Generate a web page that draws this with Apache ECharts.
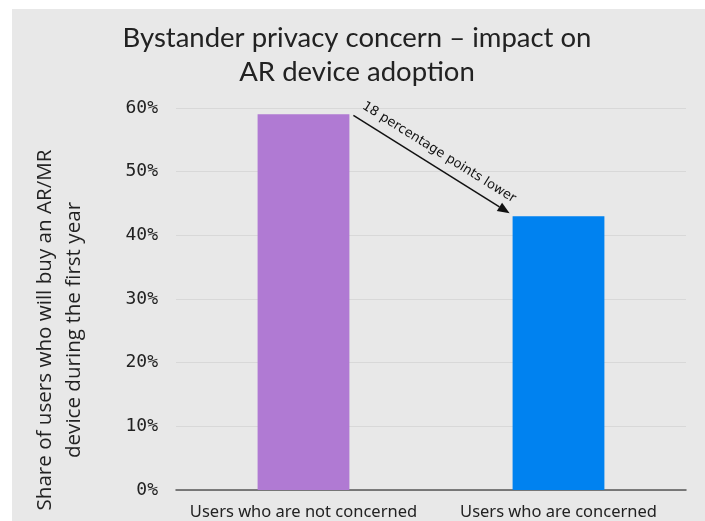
<!DOCTYPE html>
<html><head><meta charset="utf-8">
<script src="https://cdn.jsdelivr.net/npm/echarts@6/dist/echarts.min.js"></script>
<style>html,body{margin:0;padding:0;background:#fff}#c{width:705px;height:521px}</style>
</head><body><div id="c"></div>
<script>
var categories = ['Users who are not concerned', 'Users who are concerned'];
var values = [59, 43];
var barColors = ['#b07ad3', '#0082f0'];
var annotationText = '18 percentage points lower';
var yTicks = [0, 10, 20, 30, 40, 50, 60];

var chart = echarts.init(document.getElementById('c'));
var option = {
  backgroundColor: '#ffffff',
  animation: false,
  title: {
    text: 'Bystander privacy concern \u2013 impact on\nAR device adoption',
    left: 352, top: 16, textAlign: 'center',
    textStyle: { fontFamily: 'Lato', fontWeight: 'normal', fontSize: 27.5, color: '#222', lineHeight: 34 }
  },
  grid: { left: 176, right: 19, top: 108, bottom: 31 },
  xAxis: {
    type: 'category', data: categories,
    axisLine: { lineStyle: { color: '#555', width: 1.5 } },
    axisTick: { show: false },
    axisLabel: { interval: 0, fontFamily: 'Noto Sans', fontSize: 16.5, color: '#222', margin: 14 }
  },
  yAxis: {
    type: 'value', min: yTicks[0], max: yTicks[yTicks.length - 1], interval: 10,
    axisLabel: { formatter: '{value}%', fontFamily: 'DejaVu Sans Mono', fontSize: 18, color: '#222', margin: 18 },
    splitLine: { lineStyle: { color: '#d8d8d8', width: 1 } },
    axisLine: { show: false }, axisTick: { show: false }
  },
  series: [{
    type: 'bar', barWidth: '36%',
    data: values.map(function (v, i) { return { value: v, itemStyle: { color: barColors[i] } }; })
  }]
};
chart.setOption(option);

// annotation derived from data positions
var p1 = chart.convertToPixel({ xAxisIndex: 0, yAxisIndex: 0 }, [0, values[0]]);
var p2 = chart.convertToPixel({ xAxisIndex: 0, yAxisIndex: 0 }, [1, values[1]]);
var catW = chart.convertToPixel({ xAxisIndex: 0 }, 1) - chart.convertToPixel({ xAxisIndex: 0 }, 0);
var halfBar = catW * 0.36 / 2;
var x1 = p1[0] + halfBar + 4, y1 = p1[1] + 1;
var x2 = p2[0] - halfBar - 3, y2 = p2[1] - 3;
var ang = Math.atan2(y2 - y1, x2 - x1);
var ah = 12, aw = 5;
var ux = Math.cos(ang), uy = Math.sin(ang);
var bx = x2 - ux * ah, by = y2 - uy * ah;
var mx = (x1 + x2) / 2, my = (y1 + y2) / 2;
var off = 14;
chart.setOption({
  graphic: [
    { type: 'rect', z: -10, shape: { x: 12, y: 9, width: 705, height: 521 }, style: { fill: '#e8e8e8' }, silent: true },
    { type: 'line', shape: { x1: x1, y1: y1, x2: bx, y2: by }, style: { stroke: '#111', lineWidth: 1.5 } },
    { type: 'polygon', shape: { points: [[x2, y2], [bx - uy * aw, by + ux * aw], [bx + uy * aw, by - ux * aw]] }, style: { fill: '#111' } },
    { type: 'text', x: mx + uy * off, y: my - ux * off, rotation: -ang,
      style: { text: annotationText, fontFamily: 'DejaVu Sans', fontSize: 13, fill: '#111', align: 'center', verticalAlign: 'middle' } },
    { type: 'text', x: 60, y: 330, rotation: Math.PI / 2,
      style: { text: 'Share of users who will buy an AR/MR\ndevice during the first year', fontFamily: 'Open Sans', fontSize: 20.6, lineHeight: 29, fill: '#222', align: 'center', verticalAlign: 'middle' } }
  ]
});
</script></body></html>
